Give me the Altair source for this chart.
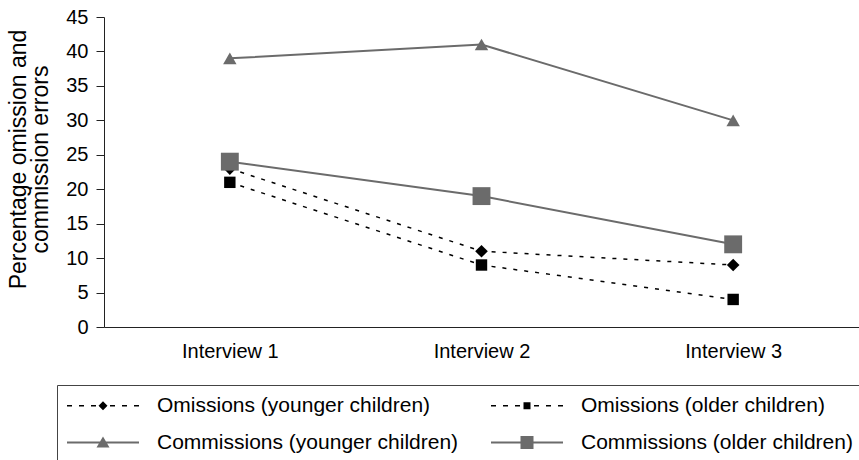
import altair as alt
import pandas as pd

# ---------------- data ----------------
interviews = ["Interview 1", "Interview 2", "Interview 3"]
series_names = [
    "Omissions (younger children)",
    "Omissions (older children)",
    "Commissions (younger children)",
    "Commissions (older children)",
]
omissions_younger = [23, 11, 9]
omissions_older = [21, 9, 4]
commissions_younger = [39, 41, 30]
commissions_older = [24, 19, 12]
y_ticks = [0, 5, 10, 15, 20, 25, 30, 35, 40, 45]

series_values = [omissions_younger, omissions_older, commissions_younger, commissions_older]
rows = []
for name, vals in zip(series_names, series_values):
    for iv, v in zip(interviews, vals):
        rows.append({"interview": iv, "series": name, "value": v})
df = pd.DataFrame(rows)

# ---------------- styles ----------------
BLACK = "#000000"
GRAY = "#6b6b6b"
FONT = "Liberation Sans"
SYM = 21.0          # nominal legend symbol size (sqrt of area), = label height
U = SYM / 2.0       # px per path unit
LEG_W = 72.0        # drawn width of legend line sample
SYM_SHIFT = LEG_W / 2 - SYM / 2


def rect(x0, x1, h):
    x0, x1, h = x0 / U, x1 / U, h / U
    return f"M{x0:.4f},{-h:.4f}H{x1:.4f}V{h:.4f}H{x0:.4f}Z"


def dotted():
    segs = [(-36, -31), (-24, -19), (-12, -7), (7, 12), (19, 24), (31, 36)]
    return "".join(rect(a, b, 0.75) for a, b in segs)


def solid():
    return rect(-36, 36, 1.0)


def diamond(a):
    a = a / U
    return f"M0,{-a:.4f}L{a:.4f},0L0,{a:.4f}L{-a:.4f},0Z"


def square(a):
    a = a / U
    return f"M{-a:.4f},{-a:.4f}H{a:.4f}V{a:.4f}H{-a:.4f}Z"


def triangle(w, top, bottom):
    w, top, bottom = w / U, top / U, bottom / U
    return f"M0,{-top:.4f}L{w:.4f},{bottom:.4f}L{-w:.4f},{bottom:.4f}Z"


legend_paths = [
    dotted() + diamond(4.5),
    dotted() + square(3.5),
    solid() + triangle(6.5, 6.0, 5.0),
    solid() + square(6.5),
]

x_enc = alt.X(
    "interview:N",
    sort=interviews,
    scale=alt.Scale(type="point", padding=0.5),
    axis=alt.Axis(
        title=None, labelAngle=0, ticks=False, tickSize=0, labelPadding=14,
        labelFontSize=20, labelFont=FONT, labelColor=BLACK,
        domainColor="#222222", domainWidth=1, grid=False,
    ),
)
y_enc = alt.Y(
    "value:Q",
    scale=alt.Scale(domain=[0, 45], nice=False, zero=True),
    axis=alt.Axis(
        values=y_ticks, grid=False, tickSize=8, tickColor="#222222", tickWidth=1,
        domainColor="#222222", domainWidth=1,
        labelFontSize=20, labelFont=FONT, labelColor=BLACK, labelPadding=8,
        title=["Percentage omission and", "commission errors"],
        titleFontSize=23, titleFont=FONT, titleFontWeight="normal", titleColor=BLACK,
        titleAngle=270, titleX=-86, titleY=142, titleAlign="center",
        titleBaseline="middle", titleLineHeight=22,
    ),
)

base = alt.Chart(df)

om_lines = base.transform_filter(
    alt.FieldOneOfPredicate(field="series", oneOf=series_names[:2])
).mark_line(color=BLACK, strokeWidth=1.5, strokeDash=[4, 7]).encode(
    x=x_enc, y=y_enc, detail="series:N"
)
com_lines = base.transform_filter(
    alt.FieldOneOfPredicate(field="series", oneOf=series_names[2:])
).mark_line(color=GRAY, strokeWidth=2).encode(x=x_enc, y=y_enc, detail="series:N")

marker_styles = [
    ("diamond", 160, BLACK),
    ("square", 130, BLACK),
    ("triangle-up", 180, GRAY),
    ("square", 320, GRAY),
]
point_layers = []
for name, (shape, size, col) in zip(series_names, marker_styles):
    point_layers.append(
        base.transform_filter(alt.datum.series == name)
        .mark_point(shape=shape, size=size, filled=True, color=col, opacity=1)
        .encode(x=x_enc, y=y_enc)
    )

leg = alt.Legend(
    title=None, orient="none", direction="horizontal", legendX=-47, legendY=368,
    columns=2, columnPadding=31, rowPadding=15, padding=10, strokeColor="#444444",
    symbolSize=SYM * SYM, symbolStrokeWidth=0, symbolOpacity=1,
    symbolOffset=SYM_SHIFT,
    labelFontSize=21, labelFont=FONT, labelColor=BLACK,
    labelOffset=LEG_W + 18 - SYM - SYM_SHIFT,
    labelLimit=500,
)
legend_layer = base.mark_point(filled=True, opacity=0).encode(
    x=x_enc,
    y=y_enc,
    color=alt.Color(
        "series:N", sort=series_names,
        scale=alt.Scale(domain=series_names, range=[BLACK, BLACK, GRAY, GRAY]),
        legend=leg,
    ),
    shape=alt.Shape(
        "series:N", sort=series_names,
        scale=alt.Scale(domain=series_names, range=legend_paths),
        legend=leg,
    ),
)

chart = alt.layer(om_lines, com_lines, *point_layers, legend_layer).properties(
    width=755,
    height=310,
    padding={"left": 104, "top": 17, "right": 0, "bottom": 133},
    autosize=alt.AutoSizeParams(type="none"),
    background="white",
).configure_view(stroke=None)

chart.save("out.html", embed_options={"renderer": "svg", "actions": False})
